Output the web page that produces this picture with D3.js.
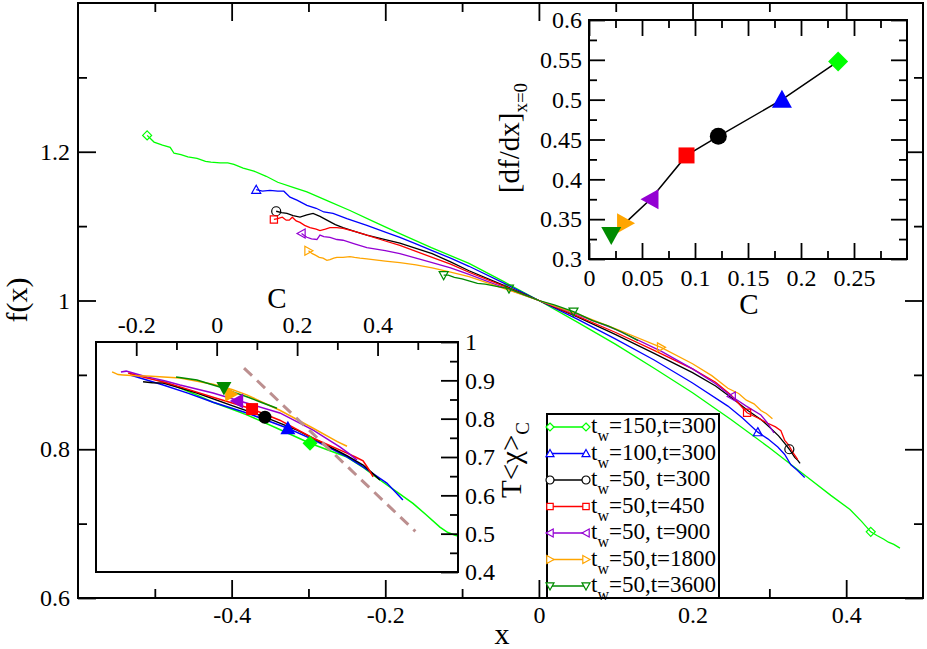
<!DOCTYPE html>
<html>
<head>
<meta charset="utf-8">
<script src="https://cdn.jsdelivr.net/npm/d3@7"></script>
<style>
  body { margin: 0; background: #fff; }
</style>
</head>
<body>
<div id="graphic"><div class="chart"></div></div>
<script>
// ---- Main panel: f(x) curves, [x, f] ----
var mainTw150 = [[-0.510,1.222],[-0.501,1.213],[-0.490,1.209],[-0.480,1.206],[-0.475,1.198],[-0.466,1.196],[-0.457,1.193],[-0.445,1.191],[-0.434,1.187],[-0.427,1.186],[-0.415,1.185],[-0.405,1.185],[-0.397,1.183],[-0.385,1.178],[-0.371,1.174],[-0.355,1.167],[-0.340,1.159],[-0.320,1.152],[-0.302,1.146],[-0.275,1.134],[-0.246,1.121],[-0.215,1.106],[-0.181,1.090],[-0.140,1.071],[-0.091,1.050],[-0.045,1.025],[0,1],[0.05,0.971],[0.10,0.941],[0.15,0.909],[0.20,0.876],[0.25,0.840],[0.30,0.802],[0.35,0.762],[0.38,0.738],[0.405,0.719],[0.420,0.703],[0.432,0.689],[0.440,0.684],[0.449,0.679],[0.455,0.675],[0.462,0.672],[0.470,0.667]];
var mainTw100 = [[-0.368,1.149],[-0.360,1.147],[-0.350,1.148],[-0.340,1.147],[-0.332,1.147],[-0.324,1.139],[-0.315,1.135],[-0.302,1.128],[-0.290,1.124],[-0.280,1.119],[-0.268,1.117],[-0.250,1.110],[-0.224,1.101],[-0.200,1.092],[-0.181,1.085],[-0.160,1.076],[-0.139,1.067],[-0.115,1.057],[-0.091,1.046],[-0.045,1.023],[0,1],[0.05,0.975],[0.10,0.948],[0.15,0.920],[0.20,0.889],[0.246,0.858],[0.265,0.842],[0.285,0.823],[0.298,0.814],[0.311,0.803],[0.320,0.793],[0.328,0.779],[0.336,0.772],[0.346,0.762]];
var mainT300 = [[-0.342,1.120],[-0.335,1.118],[-0.328,1.117],[-0.320,1.114],[-0.311,1.112],[-0.302,1.115],[-0.294,1.117],[-0.285,1.113],[-0.276,1.108],[-0.265,1.102],[-0.255,1.098],[-0.240,1.093],[-0.224,1.088],[-0.200,1.082],[-0.181,1.077],[-0.160,1.070],[-0.139,1.063],[-0.115,1.052],[-0.091,1.040],[-0.045,1.020],[0,1],[0.05,0.978],[0.10,0.954],[0.15,0.929],[0.20,0.903],[0.23,0.885],[0.255,0.866],[0.272,0.852],[0.289,0.840],[0.300,0.830],[0.312,0.818],[0.320,0.808],[0.326,0.800],[0.333,0.789],[0.337,0.785],[0.340,0.781]];
var mainT450 = [[-0.345,1.109],[-0.340,1.110],[-0.334,1.112],[-0.329,1.108],[-0.325,1.108],[-0.321,1.112],[-0.316,1.107],[-0.311,1.105],[-0.305,1.101],[-0.298,1.098],[-0.290,1.096],[-0.285,1.094],[-0.278,1.096],[-0.272,1.098],[-0.263,1.098],[-0.255,1.097],[-0.240,1.093],[-0.224,1.088],[-0.200,1.080],[-0.181,1.074],[-0.160,1.066],[-0.139,1.058],[-0.115,1.049],[-0.091,1.038],[-0.045,1.019],[0,1],[0.05,0.979],[0.10,0.957],[0.15,0.933],[0.20,0.908],[0.23,0.890],[0.25,0.873],[0.271,0.849],[0.285,0.842],[0.298,0.835],[0.308,0.830],[0.315,0.825],[0.320,0.812],[0.325,0.806],[0.331,0.795],[0.337,0.786]];
var mainT900 = [[-0.309,1.090],[-0.305,1.087],[-0.302,1.085],[-0.296,1.083],[-0.289,1.082],[-0.285,1.088],[-0.280,1.086],[-0.272,1.085],[-0.263,1.082],[-0.255,1.081],[-0.240,1.076],[-0.224,1.071],[-0.200,1.067],[-0.181,1.063],[-0.160,1.057],[-0.139,1.051],[-0.115,1.044],[-0.091,1.035],[-0.045,1.017],[0,1],[0.05,0.981],[0.10,0.961],[0.159,0.932],[0.20,0.908],[0.230,0.888],[0.251,0.871],[0.270,0.858],[0.289,0.846],[0.297,0.836],[0.306,0.822]];
var mainT1800 = [[-0.300,1.067],[-0.295,1.063],[-0.291,1.061],[-0.286,1.058],[-0.281,1.057],[-0.276,1.054],[-0.272,1.055],[-0.267,1.057],[-0.263,1.058],[-0.255,1.058],[-0.246,1.059],[-0.240,1.058],[-0.233,1.057],[-0.224,1.056],[-0.216,1.055],[-0.200,1.053],[-0.181,1.051],[-0.160,1.048],[-0.139,1.044],[-0.115,1.038],[-0.091,1.032],[-0.045,1.016],[0,1],[0.05,0.982],[0.10,0.962],[0.159,0.937],[0.20,0.915],[0.225,0.899],[0.246,0.882],[0.260,0.875],[0.270,0.866],[0.280,0.861],[0.289,0.852],[0.296,0.848],[0.304,0.841]];
var mainT3600 = [[-0.124,1.034],[-0.118,1.034],[-0.110,1.031],[-0.100,1.029],[-0.090,1.026],[-0.080,1.023],[-0.070,1.022],[-0.060,1.020],[-0.050,1.018],[-0.039,1.016],[-0.020,1.008],[0,1],[0.020,0.994],[0.045,0.985],[0.070,0.973],[0.090,0.966],[0.107,0.958],[0.120,0.951],[0.129,0.946]];

// open symbols drawn along the main curves
var mainMarks = [
  [[-0.510,1.222],[0.432,0.689]],
  [[-0.368,1.149],[0.285,0.823]],
  [[-0.342,1.120],[0.326,0.800]],
  [[-0.345,1.109],[0.271,0.849]],
  [[-0.309,1.090],[0.251,0.871]],
  [[-0.300,1.067],[0.159,0.937]],
  [[-0.124,1.034],[-0.039,1.016],[0.045,0.985]]
];

// ---- Top-right inset: slope at x=0 vs C ----
var slopeC     = [0.235, 0.182, 0.122, 0.092, 0.058, 0.034, 0.021];
var slopeValue = [0.548, 0.500, 0.454, 0.430, 0.375, 0.345, 0.330];

// ---- Bottom-left inset: T<chi> vs C ----
var chiTw150 = [[-0.149,0.901],[-0.120,0.892],[-0.091,0.880],[-0.050,0.862],[-0.009,0.843],[0.035,0.826],[0.075,0.810],[0.150,0.775],[0.232,0.736],[0.280,0.717],[0.324,0.700],[0.365,0.672],[0.406,0.640],[0.448,0.609],[0.488,0.579],[0.520,0.550],[0.555,0.517],[0.575,0.503],[0.593,0.496],[0.600,0.494]];
var chiTw100 = [[-0.215,0.914],[-0.180,0.903],[-0.133,0.888],[-0.070,0.866],[-0.009,0.843],[0.075,0.815],[0.177,0.775],[0.230,0.750],[0.282,0.723],[0.325,0.700],[0.364,0.674],[0.395,0.652],[0.423,0.632],[0.445,0.608],[0.463,0.588]];
var chiT300 = [[-0.183,0.896],[-0.160,0.894],[-0.133,0.893],[-0.090,0.880],[-0.049,0.867],[0.033,0.836],[0.120,0.804],[0.200,0.770],[0.282,0.726],[0.325,0.703],[0.364,0.679],[0.385,0.660],[0.406,0.640]];
var chiT450 = [[-0.220,0.919],[-0.195,0.912],[-0.173,0.906],[-0.130,0.895],[-0.091,0.883],[-0.009,0.856],[0.088,0.825],[0.157,0.796],[0.240,0.749],[0.324,0.710],[0.345,0.700],[0.364,0.690],[0.378,0.668],[0.389,0.648]];
var chiT900 = [[-0.238,0.922],[-0.225,0.924],[-0.208,0.919],[-0.173,0.909],[-0.130,0.899],[-0.091,0.888],[-0.009,0.867],[0.051,0.848],[0.157,0.815],[0.240,0.770],[0.307,0.726],[0.330,0.708],[0.349,0.692]];
var chiT1800 = [[-0.260,0.922],[-0.245,0.915],[-0.233,0.914],[-0.200,0.912],[-0.173,0.911],[-0.091,0.906],[-0.009,0.890],[0.038,0.876],[0.075,0.862],[0.157,0.822],[0.240,0.775],[0.300,0.740],[0.324,0.728]];
var chiT3600 = [[-0.101,0.909],[-0.075,0.905],[-0.049,0.901],[-0.015,0.890],[0.016,0.880],[0.045,0.868],[0.075,0.857],[0.110,0.843],[0.150,0.827]];
var chiMarkC = [0.232, 0.177, 0.120, 0.088, 0.051, 0.036, 0.018];
var chiMarkT = [0.736, 0.775, 0.804, 0.825, 0.846, 0.864, 0.880];
var fdtLine  = [[0.068,0.932],[0.494,0.506]];

// ---- Legend / series ----
var legendSub  = "w";
var legendRest = ["=150,t=300", "=100,t=300", "=50, t=300", "=50,t=450", "=50, t=900", "=50,t=1800", "=50,t=3600"];

// tick values
var mainXMajor = [-0.4, -0.2, 0, 0.2, 0.4],       mainXMinor = [-0.5, -0.3, -0.1, 0.1, 0.3];
var mainYMajor = [0.6, 0.8, 1, 1.2],              mainYMinor = [0.7, 0.9, 1.1, 1.3];
var ins1XMajor = [0, 0.05, 0.1, 0.15, 0.2, 0.25], ins1XMinor = [0.025, 0.075, 0.125, 0.175, 0.225, 0.275];
var ins1YMajor = [0.3, 0.35, 0.4, 0.45, 0.5, 0.55, 0.6], ins1YMinor = [0.325, 0.375, 0.425, 0.475, 0.525, 0.575];
var ins2XMajor = [-0.2, 0, 0.2, 0.4],             ins2XMinor = [-0.1, 0.1, 0.3, 0.5];
var ins2YMajor = [0.4, 0.5, 0.6, 0.7, 0.8, 0.9, 1], ins2YMinor = [0.45, 0.55, 0.65, 0.75, 0.85, 0.95];

(function() {
  var
  chart   = document.querySelector("#graphic .chart"),
  width   = 927,
  height  = 649,
  serif   = "Liberation Serif",
  colors  = ["#00ff00", "#0000ff", "#000000", "#ff0000", "#9400d3", "#ffa500", "#008b00"],
  shapes  = ["diamond", "up", "circle", "square", "left", "right", "down"],
  mainCurves = [mainTw150, mainTw100, mainT300, mainT450, mainT900, mainT1800, mainT3600],
  chiCurves  = [chiTw150, chiTw100, chiT300, chiT450, chiT900, chiT1800, chiT3600],
  box1 = { left: 78,  top: 3,   right: 923, bottom: 598 },
  box2 = { left: 589, top: 20,  right: 907, bottom: 259 },
  box3 = { left: 96,  top: 342, right: 458, bottom: 572 }
  ;

  var fmt = function(d) { return String(+d.toFixed(3)); };
  var blank = function() { return ""; };

  var svg = d3.select(chart).append("svg")
      .attr("width", width)
      .attr("height", height)
      .style("display", "block");

  var defs = svg.append("defs");
  clip("clip-main", box1);
  clip("clip-chi", box3);

  // ---------- Main panel ----------
  var x = d3.scaleLinear().domain([-0.6, 0.5]).range([box1.left, box1.right]);
  var y = d3.scaleLinear().domain([0.6, 1.4]).range([box1.bottom, box1.top]);

  var line = d3.line()
    .x(function(d) { return x(d[0]); })
    .y(function(d) { return y(d[1]); });

  var plot = svg.append("g").attr("clip-path", "url(#clip-main)");

  mainCurves.forEach(function(curve, i) {
    plot.append("path")
      .datum(curve)
      .attr("d", line)
      .attr("fill", "none")
      .attr("stroke", colors[i])
      .attr("stroke-width", 1.3);
  });

  mainMarks.forEach(function(marks, i) {
    plot.selectAll(null)
        .data(marks)
      .enter().append("path")
        .attr("transform", function(d) { return "translate(" + x(d[0]) + "," + y(d[1]) + ")"; })
        .attr("d", symbol(shapes[i], 4.5))
        .attr("fill", "none")
        .attr("stroke", colors[i])
        .attr("stroke-width", 1.2);
  });

  axis(d3.axisBottom(x), mainXMajor, 18, fmt, "translate(0," + box1.bottom + ")", 8);
  axis(d3.axisBottom(x), mainXMinor, 9, blank, "translate(0," + box1.bottom + ")", 8);
  axis(d3.axisTop(x), mainXMajor, 18, blank, "translate(0," + box1.top + ")", 8);
  axis(d3.axisTop(x), mainXMinor, 9, blank, "translate(0," + box1.top + ")", 8);
  axis(d3.axisLeft(y), mainYMajor, 18, fmt, "translate(" + box1.left + ",0)", 8);
  axis(d3.axisLeft(y), mainYMinor, 9, blank, "translate(" + box1.left + ",0)", 8);
  axis(d3.axisRight(y), mainYMajor, 18, blank, "translate(" + box1.right + ",0)", 8);
  axis(d3.axisRight(y), mainYMinor, 9, blank, "translate(" + box1.right + ",0)", 8);
  frame(box1, "none");

  title(502, 644, 30, 0).text("x");
  title(27, 300, 30, -90).text("f(x)");

  // ---------- Top-right inset ----------
  frame(box2, "#fff");

  var cx = d3.scaleLinear().domain([0, 0.3]).range([box2.left, box2.right]);
  var sy = d3.scaleLinear().domain([0.3, 0.6]).range([box2.bottom, box2.top]);

  var slopes = slopeC.map(function(c, i) { return [c, slopeValue[i]]; });

  svg.append("path")
    .datum(slopes)
    .attr("d", d3.line()
      .x(function(d) { return cx(d[0]); })
      .y(function(d) { return sy(d[1]); }))
    .attr("fill", "none")
    .attr("stroke", "#000")
    .attr("stroke-width", 1.5);

  svg.selectAll("path.slope")
      .data(slopes)
    .enter().append("path")
      .attr("class", "slope")
      .attr("transform", function(d) { return "translate(" + cx(d[0]) + "," + sy(d[1]) + ")"; })
      .attr("d", function(d, i) { return symbol(shapes[i], i == 2 ? 8.5 : 10); })
      .attr("fill", function(d, i) { return colors[i]; });

  axis(d3.axisBottom(cx), ins1XMajor, 16, fmt, "translate(0," + box2.bottom + ")", 10);
  axis(d3.axisBottom(cx), ins1XMinor, 8, blank, "translate(0," + box2.bottom + ")", 10);
  axis(d3.axisTop(cx), ins1XMajor, 16, blank, "translate(0," + box2.top + ")", 10);
  axis(d3.axisTop(cx), ins1XMinor, 8, blank, "translate(0," + box2.top + ")", 10);
  axis(d3.axisLeft(sy), ins1YMajor, 16, fmt, "translate(" + box2.left + ",0)", 7);
  axis(d3.axisLeft(sy), ins1YMinor, 8, blank, "translate(" + box2.left + ",0)", 7);
  axis(d3.axisRight(sy), ins1YMajor, 16, blank, "translate(" + box2.right + ",0)", 7);
  axis(d3.axisRight(sy), ins1YMinor, 8, blank, "translate(" + box2.right + ",0)", 7);
  frame(box2, "none");

  title(749, 314, 29, 0).text("C");

  var dLabel = title(519, 138, 29, -90);
  dLabel.append("tspan").text("[df/dx]");
  dLabel.append("tspan").attr("font-size", 19).attr("dy", 8).text("x=0");

  // ---------- Bottom-left inset ----------
  frame(box3, "#fff");

  var qx = d3.scaleLinear().domain([-0.3, 0.6]).range([box3.left, box3.right]);
  var qy = d3.scaleLinear().domain([0.4, 1.0]).range([box3.bottom, box3.top]);

  var qline = d3.line()
    .x(function(d) { return qx(d[0]); })
    .y(function(d) { return qy(d[1]); });

  var inner = svg.append("g").attr("clip-path", "url(#clip-chi)");

  chiCurves.forEach(function(curve, i) {
    inner.append("path")
      .datum(curve)
      .attr("d", qline)
      .attr("fill", "none")
      .attr("stroke", colors[i])
      .attr("stroke-width", 1.5);
  });

  inner.append("path")
    .datum(fdtLine)
    .attr("d", qline)
    .attr("fill", "none")
    .attr("stroke", "#bc8f8f")
    .attr("stroke-width", 3)
    .attr("stroke-dasharray", "11,7");

  inner.selectAll("path.chimark")
      .data(chiMarkC)
    .enter().append("path")
      .attr("class", "chimark")
      .attr("transform", function(d, i) { return "translate(" + qx(d) + "," + qy(chiMarkT[i]) + ")"; })
      .attr("d", function(d, i) { return symbol(shapes[i], i == 2 ? 6.5 : 7.5); })
      .attr("fill", function(d, i) { return colors[i]; });

  axis(d3.axisTop(qx), ins2XMajor, 14, fmt, "translate(0," + box3.top + ")", 9);
  axis(d3.axisTop(qx), ins2XMinor, 8, blank, "translate(0," + box3.top + ")", 9);
  axis(d3.axisRight(qy), ins2YMajor, 17, fmt, "translate(" + box3.right + ",0)", 7);
  axis(d3.axisRight(qy), ins2YMinor, 8, blank, "translate(" + box3.right + ",0)", 7);
  frame(box3, "none");

  title(277, 308, 29, 0).text("C");

  var tLabel = title(521, 460, 29, -90);
  tLabel.append("tspan").text("T<\u03c7>");
  tLabel.append("tspan").attr("font-size", 19).attr("dy", 8).text("C");

  // ---------- Legend ----------
  var legend = svg.append("g").attr("class", "legend");

  legend.append("rect")
    .attr("x", 547).attr("y", 414)
    .attr("width", 172).attr("height", 184)
    .attr("fill", "#fff")
    .attr("stroke", "#000")
    .attr("stroke-width", 2);

  var rows = legend.selectAll("g.row")
      .data(legendRest)
    .enter().append("g")
      .attr("class", "row")
      .attr("transform", function(d, i) { return "translate(0," + (427 + i * 26.5) + ")"; });

  rows.append("line")
    .attr("x1", 550).attr("x2", 586)
    .attr("stroke", function(d, i) { return colors[i]; })
    .attr("stroke-width", 1.5);

  [550, 586].forEach(function(px) {
    rows.append("path")
      .attr("transform", "translate(" + px + ",0)")
      .attr("d", function(d, i) { return symbol(shapes[i], 4); })
      .attr("fill", "#fff")
      .attr("stroke", function(d, i) { return colors[i]; })
      .attr("stroke-width", 1.2);
  });

  var labels = rows.append("text")
    .attr("x", 591).attr("y", 6)
    .attr("font-family", serif)
    .attr("font-size", 23);
  labels.append("tspan").text("t");
  labels.append("tspan").attr("font-size", 16).attr("dy", 8).text(legendSub);
  labels.append("tspan").attr("dy", -8).text(function(d) { return d; });

  // ---------- helpers ----------
  function axis(gen, values, size, format, transform, pad) {
    var g = svg.append("g")
      .attr("transform", transform)
      .call(gen.tickValues(values).tickSize(-size).tickPadding(pad).tickFormat(format));
    g.select(".domain").remove();
    g.attr("font-family", serif).attr("font-size", 24);
    g.selectAll("text").attr("font-family", serif);
    g.selectAll("line").attr("stroke-width", 1.8);
    return g;
  }

  function title(tx, ty, size, angle) {
    return svg.append("text")
      .attr("transform", "translate(" + tx + "," + ty + ")" + (angle ? " rotate(" + angle + ")" : ""))
      .attr("text-anchor", "middle")
      .attr("font-family", serif)
      .attr("font-size", size);
  }

  function frame(b, fill) {
    svg.append("rect")
      .attr("x", b.left).attr("y", b.top)
      .attr("width", b.right - b.left)
      .attr("height", b.bottom - b.top)
      .attr("fill", fill)
      .attr("stroke", "#000")
      .attr("stroke-width", 2);
  }

  function clip(id, b) {
    defs.append("clipPath").attr("id", id)
      .append("rect")
        .attr("x", b.left).attr("y", b.top)
        .attr("width", b.right - b.left)
        .attr("height", b.bottom - b.top);
  }

  function symbol(shape, s) {
    var h = s * 0.8;
    switch (shape) {
      case "diamond": return "M0," + -s + "L" + s + ",0L0," + s + "L" + -s + ",0Z";
      case "up":      return "M0," + -s + "L" + s + "," + h + "L" + -s + "," + h + "Z";
      case "down":    return "M0," + s + "L" + s + "," + -h + "L" + -s + "," + -h + "Z";
      case "left":    return "M" + -s + ",0L" + h + "," + -s + "L" + h + "," + s + "Z";
      case "right":   return "M" + s + ",0L" + -h + "," + -s + "L" + -h + "," + s + "Z";
      case "square":  return "M" + -h + "," + -h + "H" + h + "V" + h + "H" + -h + "Z";
      default:        return "M" + s + ",0A" + s + "," + s + " 0 1,1 " + -s + ",0A" + s + "," + s + " 0 1,1 " + s + ",0Z";
    }
  }
})();
</script>
</body>
</html>
